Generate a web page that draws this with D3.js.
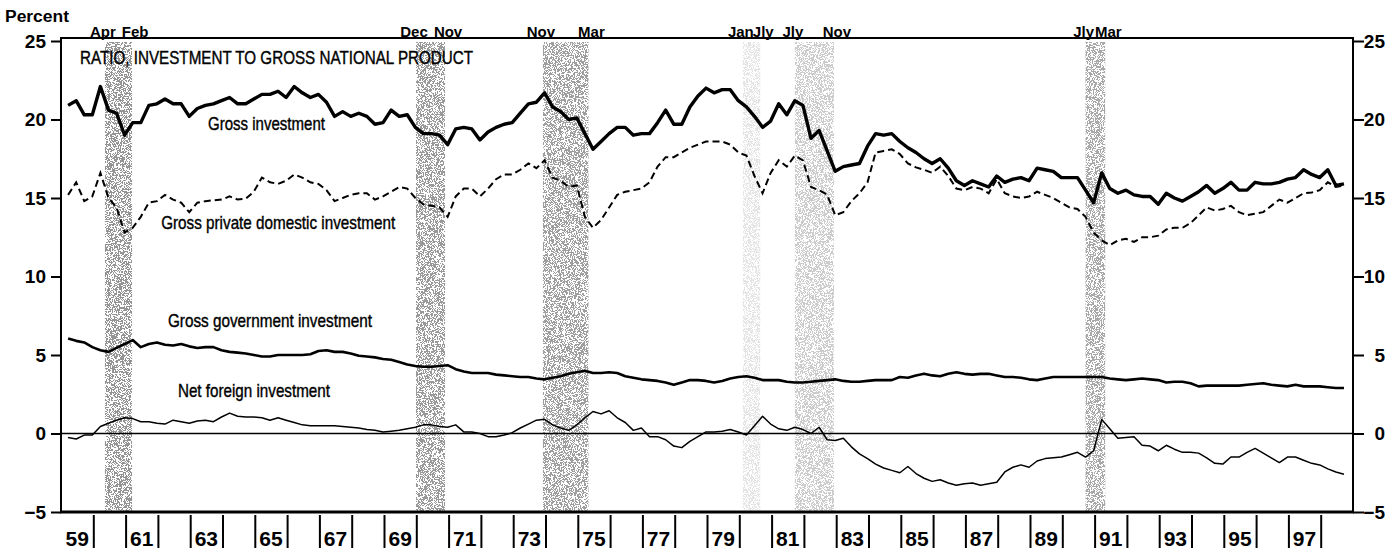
<!DOCTYPE html>
<html lang="en">
<head>
<meta charset="utf-8">
<title>Ratio, investment to gross national product</title>
<script src="https://d3js.org/d3.v7.min.js"></script>
<style>
  body { margin: 0; background: #fff; }
  svg { display: block; }
  text { font-family: "Liberation Sans Narrow", "Arial Narrow", "Liberation Sans", sans-serif; fill: #000; }
</style>
</head>
<body>
<div id="chart"></div>
<script>
var w = 1399, h = 551;
var firstYear = 1959; // data are quarterly, 1959:Q1 - 1998:Q3

// percent of GNP, one value per quarter
var grossInv = [20.9,21.2,20.3,20.3,22.1,20.6,20.4,19.0,19.8,19.8,
  20.9,21.0,21.3,21.0,21.0,20.2,20.7,20.9,21.0,21.2,
  21.4,21.0,21.0,21.3,21.6,21.6,21.8,21.4,22.1,21.7,
  21.4,21.6,21.1,20.2,20.5,20.2,20.4,20.2,19.7,19.8,
  20.6,20.2,20.3,19.5,19.1,19.1,19.0,18.4,19.4,19.5,
  19.4,18.7,19.2,19.5,19.7,19.8,20.4,21.0,21.1,21.7,
  20.8,20.5,20.0,20.1,19.1,18.1,18.6,19.1,19.5,19.5,
  19.0,19.1,19.1,19.8,20.6,19.7,19.7,20.8,21.5,22.0,
  21.7,21.9,21.9,21.2,20.8,20.2,19.5,19.9,21.0,20.3,
  21.2,20.9,18.8,19.3,18.0,16.7,17.0,17.1,17.2,18.3,
  19.1,19.0,19.1,18.6,18.2,17.9,17.5,17.2,17.5,16.9,
  16.1,15.8,16.1,15.9,15.7,16.4,16.0,16.2,16.3,16.1,
  16.9,16.8,16.7,16.3,16.3,16.3,15.5,14.7,16.6,15.6,
  15.3,15.5,15.2,15.1,15.1,14.6,15.3,15.0,14.8,15.1,
  15.4,15.8,15.3,15.6,16.0,15.5,15.5,16.0,15.9,15.9,
  16.0,16.2,16.3,16.8,16.5,16.3,16.8,15.8,15.9];

var privateInv = [15.2,16.0,14.8,15.1,16.6,15.0,14.4,12.8,13.1,13.8,
  14.7,14.8,15.2,14.9,14.7,14.1,14.7,14.8,14.85,14.9,
  15.1,14.9,14.95,15.4,16.3,16.0,15.9,16.1,16.5,16.3,
  16.0,15.9,15.5,14.8,15.0,15.2,15.3,15.3,14.9,15.1,
  15.4,15.7,15.6,15.0,14.6,14.5,14.4,13.8,15.1,15.6,
  15.6,15.1,15.6,16.2,16.5,16.5,16.8,17.2,16.9,17.4,
  16.3,16.1,15.7,15.8,13.8,13.1,13.6,14.4,15.2,15.4,
  15.5,15.6,16.0,17.0,17.6,17.6,17.9,18.2,18.4,18.6,
  18.6,18.6,18.4,17.9,17.7,16.4,15.3,16.6,17.4,17.0,
  17.7,17.4,15.7,15.5,15.2,13.9,14.1,14.8,15.3,16.0,
  17.9,18.0,18.1,17.8,17.2,16.95,16.8,16.6,17.0,16.4,
  15.6,15.5,15.7,15.6,15.3,16.2,15.3,15.1,15.0,15.1,
  15.4,15.2,15.0,14.7,14.4,14.3,13.8,12.8,12.3,12.0,
  12.3,12.4,12.2,12.5,12.5,12.6,13.0,13.1,13.1,13.4,
  13.9,14.4,14.2,14.3,14.5,14.1,13.9,14.0,14.1,14.5,
  14.9,14.7,15.0,15.3,15.35,15.5,16.0,15.7,15.8];

var govInv = [6.05,5.9,5.8,5.5,5.3,5.2,5.45,5.7,5.95,5.5,
  5.7,5.8,5.65,5.6,5.7,5.55,5.45,5.5,5.5,5.3,
  5.2,5.15,5.1,5.0,4.9,4.9,5.0,5.0,5.0,5.0,
  5.05,5.25,5.3,5.2,5.2,5.1,4.95,4.9,4.85,4.75,
  4.7,4.55,4.4,4.3,4.25,4.25,4.3,4.35,4.1,3.95,
  3.85,3.85,3.85,3.75,3.7,3.65,3.6,3.6,3.5,3.45,
  3.55,3.65,3.8,3.9,4.0,3.85,3.85,3.9,3.85,3.65,
  3.55,3.45,3.4,3.35,3.25,3.1,3.25,3.4,3.4,3.35,
  3.25,3.35,3.5,3.6,3.65,3.55,3.4,3.4,3.4,3.3,
  3.25,3.25,3.3,3.35,3.4,3.45,3.35,3.3,3.3,3.35,
  3.4,3.4,3.4,3.6,3.55,3.7,3.8,3.7,3.65,3.8,
  3.9,3.8,3.75,3.8,3.8,3.7,3.6,3.6,3.55,3.45,
  3.4,3.5,3.6,3.6,3.6,3.6,3.6,3.6,3.6,3.5,
  3.45,3.4,3.45,3.5,3.45,3.4,3.25,3.3,3.3,3.2,
  3.0,3.05,3.05,3.05,3.05,3.05,3.1,3.15,3.2,3.1,
  3.05,3.0,3.1,3.0,3.0,3.0,2.95,2.9,2.9];

var netForeign = [-0.25,-0.35,-0.1,-0.1,0.45,0.65,0.85,1.0,0.95,0.75,
  0.75,0.65,0.6,0.85,0.75,0.65,0.8,0.85,0.75,1.05,
  1.3,1.1,1.05,1.05,1.0,0.85,1.0,0.85,0.7,0.55,
  0.5,0.5,0.5,0.5,0.45,0.4,0.35,0.25,0.2,0.1,
  0.15,0.2,0.3,0.4,0.55,0.55,0.45,0.4,0.55,0.1,
  0.1,0.0,-0.2,-0.2,-0.1,0.05,0.35,0.6,0.85,0.9,
  0.55,0.35,0.2,0.55,1.0,1.4,1.25,1.45,1.0,0.7,
  0.2,0.35,-0.2,-0.2,-0.4,-0.8,-0.9,-0.5,-0.2,0.1,
  0.1,0.15,0.25,0.1,-0.1,0.5,1.1,0.6,0.3,0.2,
  0.4,0.25,0.0,0.4,-0.4,-0.45,-0.3,-0.85,-1.3,-1.6,
  -1.95,-2.2,-2.35,-2.5,-2.1,-2.55,-2.85,-3.05,-2.95,-3.15,
  -3.3,-3.2,-3.15,-3.3,-3.2,-3.1,-2.45,-2.15,-2.0,-2.15,
  -1.75,-1.6,-1.55,-1.5,-1.35,-1.2,-1.5,-1.1,0.9,0.3,
  -0.3,-0.25,-0.2,-0.75,-0.8,-1.1,-0.75,-1.0,-1.2,-1.2,
  -1.25,-1.55,-1.9,-1.95,-1.5,-1.5,-1.2,-0.95,-1.25,-1.55,
  -1.85,-1.5,-1.5,-1.7,-1.9,-2.0,-2.25,-2.45,-2.6];

// recessions (peak / trough months)
var recPeak   = ['Apr', 'Dec', 'Nov', 'Jan', 'Jly', 'Jly'];
var recTrough = ['Feb', 'Nov', 'Mar', 'Jly', 'Nov', 'Mar'];
var recStart  = [1960.36, 1969.99, 1973.92, 1980.11, 1981.72, 1990.72];
var recEnd    = [1961.20, 1970.89, 1975.33, 1980.65, 1982.93, 1991.33];
var recShade  = [0.42, 0.4, 0.38, 0.1, 0.2, 0.34];

var yTicks = [-5, 0, 5, 10, 15, 20, 25];
var yearBounds = d3.range(1960, 1999);
var labelYears = [1959, 1961, 1963, 1965, 1967, 1969, 1971, 1973, 1975, 1977,
  1979, 1981, 1983, 1985, 1987, 1989, 1991, 1993, 1995, 1997];

var frame = {left: 61, right: 1353, top: 38, bottom: 512};

var xScale = d3.scaleLinear().domain([1959, 1999]).range([frame.left, frame.right]);
var yScale = d3.scaleLinear().domain([-5, 25]).range([frame.bottom, 41]);

// each quarter is drawn a bit after its start
function qTime(i) { return firstYear + i / 4 + 0.22; }

var svg = d3.select('#chart').append('svg').attr('width', w).attr('height', h);

/* stipple texture for the recession bands */
var filt = svg.append('defs').append('filter').attr('id', 'stip')
  .attr('x', 0).attr('y', 0).attr('width', 1).attr('height', 1);
filt.append('feTurbulence').attr('type', 'fractalNoise').attr('baseFrequency', 1.3)
  .attr('numOctaves', 2).attr('seed', 4).attr('result', 'noise');
filt.append('feColorMatrix').attr('in', 'noise').attr('type', 'matrix')
  .attr('values', '0 0 0 0 0  0 0 0 0 0  0 0 0 0 0  1 0 0 0 0').attr('result', 'na');
filt.append('feComponentTransfer').attr('in', 'na').attr('result', 'mask')
  .append('feFuncA').attr('type', 'discrete').attr('tableValues', '0 0 1 1');
filt.append('feComposite').attr('in', 'SourceGraphic').attr('in2', 'mask').attr('operator', 'in');

svg.selectAll('.rec').data(recStart).enter().append('rect').attr('class', 'rec')
  .attr('x', d => xScale(d))
  .attr('y', frame.top + 4)
  .attr('width', (d, i) => xScale(recEnd[i]) - xScale(d))
  .attr('height', frame.bottom - frame.top - 4)
  .attr('fill', '#000')
  .attr('fill-opacity', (d, i) => recShade[i])
  .attr('filter', 'url(#stip)');

/* zero line */
svg.append('line')
  .attr('x1', frame.left).attr('x2', frame.right)
  .attr('y1', yScale(0)).attr('y2', yScale(0))
  .attr('stroke', '#000').attr('stroke-width', 1.5);

/* series */
var line = d3.line().x((d, i) => xScale(qTime(i))).y(d => yScale(d));

svg.append('path').datum(netForeign).attr('d', line)
  .attr('fill', 'none').attr('stroke', '#000').attr('stroke-width', 1.5).attr('stroke-linejoin', 'round');
svg.append('path').datum(govInv).attr('d', line)
  .attr('fill', 'none').attr('stroke', '#000').attr('stroke-width', 2.6).attr('stroke-linejoin', 'round');
svg.append('path').datum(privateInv).attr('d', line)
  .attr('fill', 'none').attr('stroke', '#000').attr('stroke-width', 2)
  .attr('stroke-dasharray', '7,4');
svg.append('path').datum(grossInv).attr('d', line)
  .attr('fill', 'none').attr('stroke', '#000').attr('stroke-width', 3.4).attr('stroke-linejoin', 'round');

/* frame */
svg.append('path')
  .attr('d', 'M' + frame.left + ',' + frame.bottom + 'V' + frame.top + 'H' + frame.right + 'V' + frame.bottom)
  .attr('fill', 'none').attr('stroke', '#000').attr('stroke-width', 2);
svg.append('line')
  .attr('x1', frame.left - 1).attr('x2', frame.right + 1)
  .attr('y1', frame.bottom).attr('y2', frame.bottom)
  .attr('stroke', '#000').attr('stroke-width', 3);

/* y axes */
var yLeft = svg.append('g').attr('transform', 'translate(' + frame.left + ',0)')
  .call(d3.axisLeft(yScale).tickValues(yTicks).tickSize(10).tickPadding(5));
var yRight = svg.append('g').attr('transform', 'translate(' + frame.right + ',0)')
  .call(d3.axisRight(yScale).tickValues(yTicks).tickSize(11));
yRight.selectAll('text').attr('text-anchor', 'end').attr('x', 32);
svg.selectAll('.domain').remove();
svg.selectAll('.tick line').attr('stroke', '#000').attr('stroke-width', 2);
svg.selectAll('.tick text').attr('font-size', 19).attr('font-weight', 'bold')
  .attr('font-family', '"Liberation Sans Narrow", "Liberation Sans", sans-serif');

/* x axis: ticks at the year boundaries, labels on odd years */
var xTicks = svg.append('g').attr('transform', 'translate(0,' + frame.bottom + ')')
  .call(d3.axisBottom(xScale).tickValues(yearBounds).tickSize(36).tickFormat(''));
xTicks.select('.domain').remove();
xTicks.selectAll('line').attr('stroke', '#000').attr('stroke-width', 2).attr('y1', 3);

svg.append('g').selectAll('text').data(labelYears).enter().append('text')
  .attr('x', d => xScale(d + 0.5))
  .attr('y', frame.bottom + 34)
  .attr('text-anchor', 'middle')
  .attr('font-size', 21).attr('font-weight', 'bold')
  .text(d => String(d).slice(2));

/* peak / trough months above the frame */
svg.selectAll('.peak').data(recPeak).enter().append('text').attr('class', 'peak')
  .attr('x', (d, i) => xScale(recStart[i]) - 2)
  .attr('y', frame.top - 1)
  .attr('text-anchor', 'middle').attr('font-size', 15).attr('font-weight', 'bold')
  .text(d => d);
svg.selectAll('.trough').data(recTrough).enter().append('text').attr('class', 'trough')
  .attr('x', (d, i) => xScale(recEnd[i]) + 3)
  .attr('y', frame.top - 1)
  .attr('text-anchor', 'middle').attr('font-size', 15).attr('font-weight', 'bold')
  .text(d => d);

svg.append('text').attr('x', 5).attr('y', 22)
  .attr('font-size', 16).attr('font-weight', 'bold')
  .attr('textLength', 64).attr('lengthAdjust', 'spacingAndGlyphs')
  .text('Percent');

/* title and series labels, placed in data units */
var labels = [
  {text: 'RATIO, INVESTMENT TO GROSS NATIONAL PRODUCT', t: 1959.59, v: 23.55, len: 393},
  {text: 'Gross investment', t: 1963.55, v: 19.3, len: 117},
  {text: 'Gross private domestic investment', t: 1962.1, v: 13.0, len: 234},
  {text: 'Gross government investment', t: 1962.31, v: 6.8, len: 204},
  {text: 'Net foreign investment', t: 1962.62, v: 2.3, len: 152}
];
svg.selectAll('.lab').data(labels).enter().append('text').attr('class', 'lab')
  .attr('x', d => xScale(d.t))
  .attr('y', d => yScale(d.v))
  .attr('font-size', 19)
  .attr('stroke', '#000').attr('stroke-width', 0.4)
  .attr('textLength', d => d.len).attr('lengthAdjust', 'spacingAndGlyphs')
  .text(d => d.text);
</script>
</body>
</html>
